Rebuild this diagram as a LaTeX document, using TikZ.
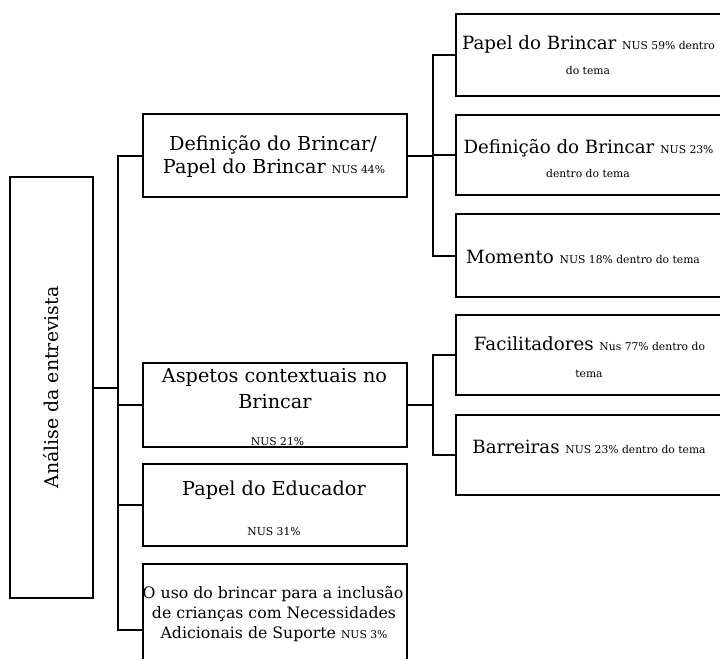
\documentclass[tikz,border=0pt]{standalone}
\usepackage{fontspec}
\setmainfont{DejaVu Serif}
\newcommand{\mainsz}{\fontsize{19.3}{23}\selectfont}
\newcommand{\subsz}{\fontsize{18.3}{22}\selectfont}
\newcommand{\midsz}{\fontsize{15.8}{19}\selectfont}
\newcommand{\nus}[1]{{\fontsize{10.8}{13}\selectfont #1}}
\begin{document}
\begin{tikzpicture}[x=1bp,y=-1bp,
  box/.style={draw, line width=1.4bp, rectangle, inner sep=0pt},
  conn/.style={line width=2bp},
  lbl/.style={anchor=base, inner sep=0pt, font=\mainsz},
  rlbl/.style={anchor=base, inner sep=0pt, font=\subsz},
  dlbl/.style={anchor=base, inner sep=0pt, font=\midsz}]
\useasboundingbox (0,0) rectangle (720,659);
% root
\node[box, minimum width=83bp, minimum height=421bp] (r) at (51.5,387.5) {};
\node[rotate=90, inner sep=0pt, font=\fontsize{19}{23}\selectfont] (rt) at (51,387.5) {Análise da entrevista};
% level 1
\node[box, minimum width=264bp, minimum height=83bp] (A) at (275,155.5) {};
\node[box, minimum width=264bp, minimum height=84bp] (B) at (275,405) {};
\node[box, minimum width=264bp, minimum height=82bp] (C) at (275,505) {};
\node[box, minimum width=264bp, minimum height=132bp] (D) at (275,630) {};
% level 2
\node[box, minimum width=266bp, minimum height=82bp] (A1) at (589,55) {};
\node[box, minimum width=266bp, minimum height=80bp] (A2) at (589,155) {};
\node[box, minimum width=266bp, minimum height=83bp] (A3) at (589,255.5) {};
\node[box, minimum width=266bp, minimum height=80bp] (B1) at (589,355) {};
\node[box, minimum width=266bp, minimum height=80bp] (B2) at (589,455) {};
% texts level 1
\node[lbl] (ta1) at (273,150) {Definição do Brincar/};
\node[lbl] (ta2) at (274,173) {Papel do Brincar \nus{NUS 44\%}};
\node[lbl] (tb1) at (274.5,382) {Aspetos contextuais no};
\node[lbl] (tb2) at (275,408) {Brincar};
\node[lbl] (tb3) at (277.5,445) {\nus{NUS 21\%}};
\node[lbl] (tc1) at (274,495) {Papel do Educador};
\node[lbl] (tc2) at (274,535) {\nus{NUS 31\%}};
\node[dlbl] (td1) at (273,598) {O uso do brincar para a inclusão};
\node[dlbl] (td2) at (274,618) {de crianças com Necessidades};
\node[dlbl] (td3) at (274,638) {Adicionais de Suporte \nus{NUS 3\%}};
% texts level 2
\node[rlbl] (ta11) at (588.5,50) {Papel do Brincar \nus{NUS 59\% dentro}};
\node[rlbl] (ta12) at (588,75) {\nus{do tema}};
\node[rlbl] (ta21) at (588.5,153) {Definição do Brincar \nus{NUS 23\%}};
\node[rlbl] (ta22) at (588,177) {\nus{dentro do tema}};
\node[rlbl] (ta31) at (583,263) {Momento \nus{NUS 18\% dentro do tema}};
\node[rlbl] (tb11) at (589.5,350) {Facilitadores \nus{Nus 77\% dentro do}};
\node[rlbl] (tb12) at (589,377) {\nus{tema}};
\node[rlbl] (tb21) at (589,453) {Barreiras \nus{NUS 23\% dentro do tema}};
% connectors
\coordinate (bus) at (118,387.5);
\coordinate (busA) at (433,155.5);
\coordinate (busB) at (433,405);
\draw[conn] (r.east) -- (bus);
\draw[conn] (bus) |- (A.west);
\draw[conn] (bus) |- (B.west);
\draw[conn] (bus) |- (C.west);
\draw[conn] (bus) |- (D.west);
\draw[conn] (A.east) -- (busA);
\draw[conn] (busA) |- (A1.west);
\draw[conn] (busA) |- (A2.west);
\draw[conn] (busA) |- (A3.west);
\draw[conn] (B.east) -- (busB);
\draw[conn] (busB) |- (B1.west);
\draw[conn] (busB) |- (B2.west);
\end{tikzpicture}
\end{document}
